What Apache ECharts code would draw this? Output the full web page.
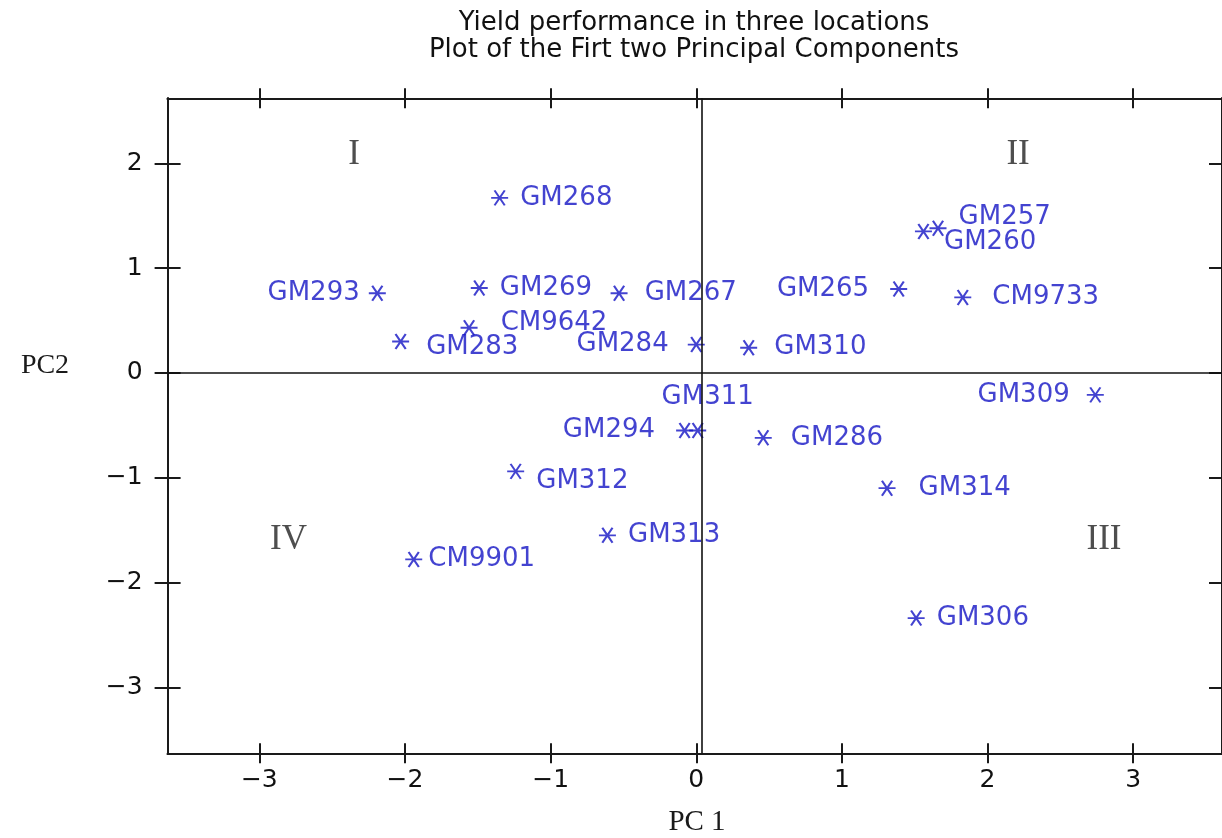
<!DOCTYPE html>
<html><head><meta charset="utf-8">
<script src="https://cdn.jsdelivr.net/npm/echarts@6/dist/echarts.min.js"></script>
<style>html,body{margin:0;padding:0;background:#fff}#c{width:1222px;height:838px}</style>
</head><body><div id="c"></div>
<script>
// ---- data ----
const names = ['GM268','GM293','GM269','GM267','GM265','CM9733','GM257','GM260','CM9642','GM283','GM284','GM310','GM311','GM294','GM286','GM309','GM314','GM312','GM313','CM9901','GM306'];
const pc1   = [-1.35, -2.19, -1.49, -0.53, 1.39, 1.83, 1.66, 1.56, -1.56, -2.03, 0.00, 0.36, 0.01, -0.08, 0.46, 2.74, 1.31, -1.24, -0.61, -1.94, 1.51];
const pc2   = [ 1.67,  0.76,  0.81,  0.76, 0.80, 0.72, 1.38, 1.35,  0.43,  0.30, 0.27, 0.24, -0.55, -0.55, -0.62, -0.21, -1.10, -0.94, -1.55, -1.78, -2.34];
const xTicks = [-3, -2, -1, 0, 1, 2, 3];
const yTicks = [-3, -2, -1, 0, 1, 2];
const quadrantNames = ['I', 'II', 'III', 'IV'];
const quadrantPc1 = [-2.35, 2.21, 2.80, -2.80];
const quadrantPc2 = [2.08, 2.08, -1.59, -1.59];
const titleText = 'Yield performance in three locations\nPlot of the Firt two Principal Components';

// ---- label placement (layout only) ----
const labelPlacement = {
  GM293: {position: 'left', distance: 8},
  GM265: {position: 'left', distance: 20},
  GM284: {position: 'left', distance: 18},
  GM294: {position: 'left', distance: 20},
  GM309: {position: 'left', distance: 16},
  GM311: {position: 'top', distance: 12, offset: [10, 0]},
  GM257: {offset: [0, -11]},
  GM260: {offset: [0, 11]},
  CM9642: {distance: 22, offset: [0, -5]},
  GM283: {distance: 16, offset: [0, 6]},
  GM312: {offset: [0, 10]},
  CM9733: {distance: 20},
  GM314: {distance: 22},
  GM286: {distance: 18},
  GM310: {distance: 16},
  GM267: {distance: 16},
  CM9901: {distance: 5}
};

const BLUE = '#1414c4';
const AXC = '#1a1a1a';
const minus = v => v < 0 ? '\u2212' + Math.abs(v) : String(v);
const XMIN = -3.63, XMAX = 3.61, YMIN = -3.63, YMAX = 2.62;

const points = names.map((n, i) => {
  const d = {name: n, value: [pc1[i], pc2[i]]};
  if (labelPlacement[n]) d.label = labelPlacement[n];
  return d;
});
const quads = quadrantNames.map((n, i) => ({name: n, value: [quadrantPc1[i], quadrantPc2[i]]}));

function mkX(grid, pos, inside, labels) {
  return {
    type: 'value', gridIndex: grid, position: pos, min: XMIN, max: XMAX,
    axisLine: {show: true, onZero: false, lineStyle: {color: AXC, width: 2}},
    axisTick: {show: true, inside: inside, length: 10, customValues: xTicks, lineStyle: {color: AXC, width: 2}},
    axisLabel: {show: labels, customValues: xTicks, formatter: minus, margin: 15,
      fontFamily: 'DejaVu Sans', fontSize: 25, color: '#111'},
    splitLine: {show: false}
  };
}
function mkY(grid, pos, inside, labels) {
  return {
    type: 'value', gridIndex: grid, position: pos, min: YMIN, max: YMAX,
    axisLine: {show: true, onZero: false, lineStyle: {color: AXC, width: 2}},
    axisTick: {show: true, inside: inside, length: 13, customValues: yTicks, lineStyle: {color: AXC, width: 2}},
    axisLabel: {show: labels, customValues: yTicks, formatter: minus, margin: 25,
      fontFamily: 'DejaVu Sans', fontSize: 25, color: '#111'},
    splitLine: {show: false}
  };
}
const gridBox = {left: 167.6, top: 98.3, right: 0, bottom: 84.7, containLabel: false, outerBoundsMode: 'none'};

const chart = echarts.init(document.getElementById('c'), null, {renderer: 'canvas'});
chart.setOption({
  backgroundColor: '#fff',
  animation: false,
  title: [
    {text: titleText, left: 694, top: 10, textAlign: 'center', padding: 0,
      textStyle: {fontFamily: 'DejaVu Sans', fontSize: 26, fontWeight: 'normal', color: '#111', lineHeight: 27}},
    {text: 'PC2', left: 45, top: 352, textAlign: 'center', padding: 0,
      textStyle: {fontFamily: 'Liberation Serif', fontSize: 28, fontWeight: 'normal', color: '#1a1a1a'}},
    {text: 'PC 1', left: 697, top: 808, textAlign: 'center', padding: 0,
      textStyle: {fontFamily: 'Liberation Serif', fontSize: 29, fontWeight: 'normal', color: '#1a1a1a'}}
  ],
  grid: [Object.assign({}, gridBox), Object.assign({}, gridBox)],
  xAxis: [mkX(0, 'bottom', false, true), mkX(0, 'top', false, false), mkX(1, 'bottom', true, false), mkX(1, 'top', true, false)],
  yAxis: [mkY(0, 'left', false, true), mkY(0, 'right', false, false), mkY(1, 'left', true, false), mkY(1, 'right', true, false)],
  series: [
    {
      type: 'scatter', xAxisIndex: 0, yAxisIndex: 0, data: points,
      symbol: 'path://M-10,0 L10,0 M-6,-8 L6,8 M-6,8 L6,-8',
      symbolSize: [17, 15],
      itemStyle: {color: BLUE, borderColor: BLUE, borderWidth: 2},
      label: {show: true, formatter: '{b}', position: 'right', distance: 11,
        fontFamily: 'DejaVu Sans', fontSize: 26, color: BLUE},
      emphasis: {disabled: true},
      markLine: {
        silent: true, symbol: ['none', 'none'], label: {show: false},
        lineStyle: {color: '#111', width: 1.6, type: 'solid'},
        data: [{xAxis: 0.04}, {yAxis: 0}]
      },
      z: 3
    },
    {
      type: 'scatter', xAxisIndex: 0, yAxisIndex: 0, data: quads,
      symbolSize: 1, itemStyle: {color: 'rgba(0,0,0,0)'},
      label: {show: true, formatter: '{b}', position: 'inside',
        fontFamily: 'Liberation Serif', fontSize: 35, color: '#222'},
      emphasis: {disabled: true}, silent: true
    }
  ]
});
</script></body></html>
